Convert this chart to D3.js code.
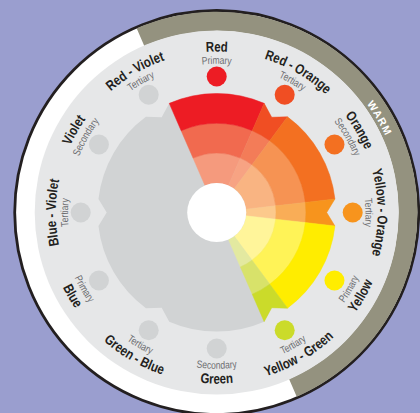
<!DOCTYPE html>
<html><head><meta charset="utf-8">
<script src="https://cdn.jsdelivr.net/npm/d3@7"></script>
<style>html,body{margin:0;padding:0;background:#9a9ecf;} svg{display:block}</style>
</head><body>
<script>
// ---- data ----
const names = ["Red","Red - Orange","Orange","Yellow - Orange","Yellow","Yellow - Green","Green","Green - Blue","Blue","Blue - Violet","Violet","Red - Violet"];
const kinds = ["Primary","Tertiary","Secondary","Tertiary","Primary","Tertiary","Secondary","Tertiary","Primary","Tertiary","Secondary","Tertiary"];
const dotColors = ["#ed1c24","#f04e23","#f37021","#f7941d","#ffed00","#cbdb2a","#d1d3d4","#d1d3d4","#d1d3d4","#d1d3d4","#d1d3d4","#d1d3d4"];
const tintInner  = ["#f59a7d","#f7a383","#f9b482","#fcc98c","#fff59a","#e3e9a0",null,null,null,null,null,null];
const tintMiddle = ["#f16a4f","#f37c58","#f69353","#f9ad57","#fff357","#d8e26a",null,null,null,null,null,null];
const tintOuter  = ["#ed1c24","#f04e23","#f37021","#f7941d","#ffed00","#cbdb2a",null,null,null,null,null,null];
const tintLevels = ["inner","middle","outer"];
const halfLabel = "WARM";
const halfLabelAt = 2;

// ---- layout ----
const W = 420, H = 413, cx = 216.7, cy = 212.5;
const deg = Math.PI / 180, HP = Math.PI / 2;
const svg = d3.select("body").append("svg").attr("width", W).attr("height", H);
svg.append("rect").attr("width", W).attr("height", H).attr("fill", "#9a9ecf");
const defs = svg.append("defs");
const g = svg.append("g").attr("transform", `translate(${cx},${cy})`);

const angle = d3.scaleLinear().domain([0, names.length]).range([0, 2 * Math.PI]);
const span = d3.scaleOrdinal().domain(["Primary", "Secondary", "Tertiary"]).range([47 * deg, 47 * deg, 13 * deg]);
const ring = d3.scaleLinear().domain([0, tintLevels.length]).range([29.5, 119]);
const R = ring(tintLevels.length), rNotch = 110;
const pt = (r, a) => [r * Math.sin(a), -r * Math.cos(a)];

// outer disc
g.append("circle").attr("r", 202).attr("fill", "#ffffff").attr("stroke", "#231f20").attr("stroke-width", 2.8);
const warmIdx = d3.range(names.length).filter(i => tintOuter[i]);
const first = warmIdx[0], last = warmIdx[warmIdx.length - 1];
const bandStart = angle(first) - span(kinds[first]) / 2;
const bandEnd = angle(last) + span(kinds[last]) / 2;
g.append("path").attr("d", d3.arc()({innerRadius: 181.5, outerRadius: 200.8, startAngle: bandStart, endAngle: bandEnd}))
  .attr("fill", "#94927f");
g.append("circle").attr("r", 182).attr("fill", "#e6e7e8");

// gear
const gp = d3.path();
names.forEach((n, i) => {
  const c = angle(i), h = span(kinds[i]) / 2, a0 = c - h, a1 = c + h;
  if (kinds[i] === "Tertiary") {
    const p0 = pt(R, a0);
    if (i === 0) gp.moveTo(p0[0], p0[1]); else gp.lineTo(p0[0], p0[1]);
    gp.lineTo(...pt(rNotch, c)); gp.lineTo(...pt(R, a1));
  } else {
    gp.arc(0, 0, R, a0 - HP, a1 - HP);
  }
});
gp.closePath();
g.append("path").attr("d", gp.toString()).attr("fill", "#d1d3d4");

// coloured wedges
warmIdx.forEach(i => {
  const c = angle(i), h = span(kinds[i]) / 2, a0 = c - h, a1 = c + h;
  const tints = [tintInner[i], tintMiddle[i], tintOuter[i]];
  tints.forEach((col, k) => {
    let d;
    if (k === tints.length - 1 && kinds[i] === "Tertiary") {
      const p = d3.path();
      p.arc(0, 0, ring(k), a0 - HP, a1 - HP);
      p.lineTo(...pt(R, a1)); p.lineTo(...pt(rNotch, c)); p.lineTo(...pt(R, a0)); p.closePath();
      d = p.toString();
    } else {
      d = d3.arc()({innerRadius: ring(k), outerRadius: ring(k + 1), startAngle: a0, endAngle: a1});
    }
    g.append("path").attr("d", d).attr("fill", col).attr("stroke", col).attr("stroke-width", 0.5).attr("stroke-linejoin", "round");
  });
});
g.append("circle").attr("r", 29.5).attr("fill", "#ffffff");

// dots
g.selectAll("circle.dot").data(names).join("circle").attr("class", "dot")
  .attr("cx", (d, i) => pt(136, angle(i))[0]).attr("cy", (d, i) => pt(136, angle(i))[1])
  .attr("r", 10).attr("fill", (d, i) => dotColors[i]);

// labels
const ctx = document.createElement("canvas").getContext("2d");
function narrowWidth(text, font) { ctx.font = font; return ctx.measureText(text).width * 0.82; }
function arcPath(r, c, flip) {
  const p = d3.path(), w = 75 * deg;
  if (!flip) p.arc(0, 0, r, c - w - HP, c + w - HP, false);
  else p.arc(0, 0, r, c + w - HP, c - w - HP, true);
  return p.toString();
}
let pid = 0;
function label(text, c, rc, size, weight, fill, spacing) {
  const deg0 = c / deg;
  const flip = deg0 > 90.5 && deg0 < 269.5;
  const rb = flip ? rc + 0.36 * size : rc - 0.36 * size;
  const id = "lp" + (pid++);
  defs.append("path").attr("id", id).attr("d", arcPath(rb, c, flip));
  const t = g.append("text").attr("font-size", size).attr("font-weight", weight).attr("fill", fill)
    .attr("font-family", '"Liberation Sans Narrow", "Liberation Sans", Arial, sans-serif')
    .attr("letter-spacing", spacing || 0);
  const tp = t.append("textPath").attr("href", "#" + id).attr("startOffset", "50%").attr("text-anchor", "middle").text(text);
  if (!spacing) {
    const wdt = narrowWidth(text, `${weight} ${size}px "Liberation Sans"`);
    tp.attr("textLength", wdt).attr("lengthAdjust", "spacingAndGlyphs");
  }
}
names.forEach((n, i) => {
  label(n, angle(i), 166, 14, "bold", "#231f20");
  label(kinds[i], angle(i), 152.5, 10.5, "normal", "#6d6e71");
});
label(halfLabel, angle(halfLabelAt), 189, 10.5, "bold", "#ffffff", 1.3);
</script>
</body></html>
